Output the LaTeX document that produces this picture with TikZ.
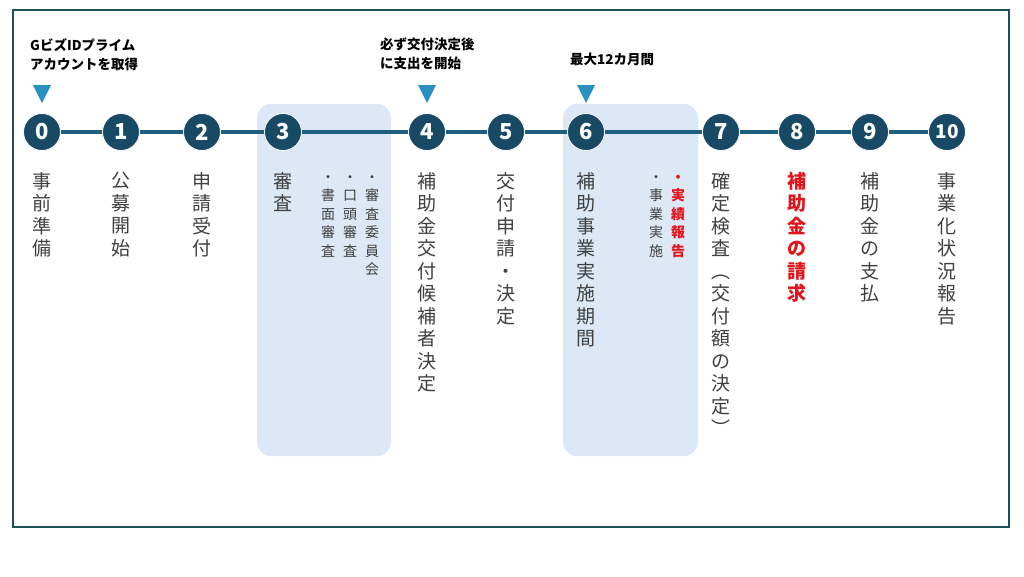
\documentclass[tikz,border=0pt]{standalone}
\usepackage{fontspec}
\setmainfont{Noto Sans CJK JP}
\definecolor{frame}{HTML}{1F4E5F}
\definecolor{lineC}{HTML}{1F5F7F}
\definecolor{circ}{HTML}{184A66}
\definecolor{triC}{HTML}{2A90C0}
\definecolor{shadeC}{HTML}{DCE8F5}
\definecolor{txt}{HTML}{404040}
\definecolor{redC}{HTML}{E0161C}
\begin{document}
\begin{tikzpicture}[x=1pt,y=-1pt,
  stepc/.style={circle,fill=circ,draw=white,line width=0.8pt,minimum size=37pt,inner sep=0pt,text=white,font=\fontsize{22}{22}\selectfont\bfseries},
  vmain/.style={anchor=north,align=center,inner sep=0pt,text=txt,font=\fontsize{19}{22.5}\selectfont},
  vsub/.style={anchor=north,align=center,inner sep=0pt,text=txt,font=\fontsize{14}{18.5}\selectfont},
  note/.style={anchor=north west,align=left,inner sep=0pt,text=black,font=\fontsize{13.5}{19}\selectfont\bfseries}]
\useasboundingbox (0,0) rectangle (1024,576);
\fill[white] (0,0) rectangle (1024,576);
\draw[frame,line width=1.5pt] (13,10) rectangle (1009,527);
\fill[shadeC,rounded corners=14pt] (257,104) rectangle (391,456);
\fill[shadeC,rounded corners=14pt] (563,104) rectangle (698,456);
\draw[lineC,line width=4pt] (42,132) -- (947,132);
\foreach \n/\x in {0/42,1/121,2/202,3/283,4/427,5/506,6/586,7/721,8/797,9/870}
  \node[stepc] (s\n) at (\x,132) {\n};
\node[stepc,font=\fontsize{19}{19}\selectfont\bfseries] (s10) at (947,132) {10};
\foreach \x in {42,427,586}
  \fill[triC] (\x-9,85) -- (\x+9,85) -- (\x,103) -- cycle;
\node[note] (n0) at (30,38) {Gビズ\textbf{ID}プライム\\アカウントを取得};
\node[note] (n4) at (380,38) {必ず交付決定後\\に支出を開始};
\node[note] (n6) at (570,53) {最大12カ月間};
\node[vmain] (t0) at (42,172) {事\\前\\準\\備};
\node[vmain] (t1) at (121,172) {公\\募\\開\\始};
\node[vmain] (t2) at (202,172) {申\\請\\受\\付};
\node[vmain] (t3) at (283,172) {審\\査};
\node[vsub] (t3a) at (328,175) {・\\書\\面\\審\\査};
\node[vsub] (t3b) at (350,175) {・\\口\\頭\\審\\査};
\node[vsub] (t3c) at (372,175) {・\\審\\査\\委\\員\\会};
\node[vmain] (t4) at (427,172) {補\\助\\金\\交\\付\\候\\補\\者\\決\\定};
\node[vmain] (t5) at (506,172) {交\\付\\申\\請\\・\\決\\定};
\node[vmain] (t6) at (586,172) {補\\助\\事\\業\\実\\施\\期\\間};
\node[vsub] (t6a) at (656,175) {・\\事\\業\\実\\施};
\node[vsub,text=redC,font=\fontsize{14}{18.5}\selectfont\bfseries] (t6b) at (678,175) {・\\実\\績\\報\\告};
\node[vmain] (t7) at (721,172) {確\\定\\検\\査\\︵\\交\\付\\額\\の\\決\\定\\︶};
\node[vmain,text=redC,font=\fontsize{19}{22.5}\selectfont\bfseries] (t8) at (797,172) {補\\助\\金\\の\\請\\求};
\node[vmain] (t9) at (870,172) {補\\助\\金\\の\\支\\払};
\node[vmain] (t10) at (947,172) {事\\業\\化\\状\\況\\報\\告};
\end{tikzpicture}
\end{document}
